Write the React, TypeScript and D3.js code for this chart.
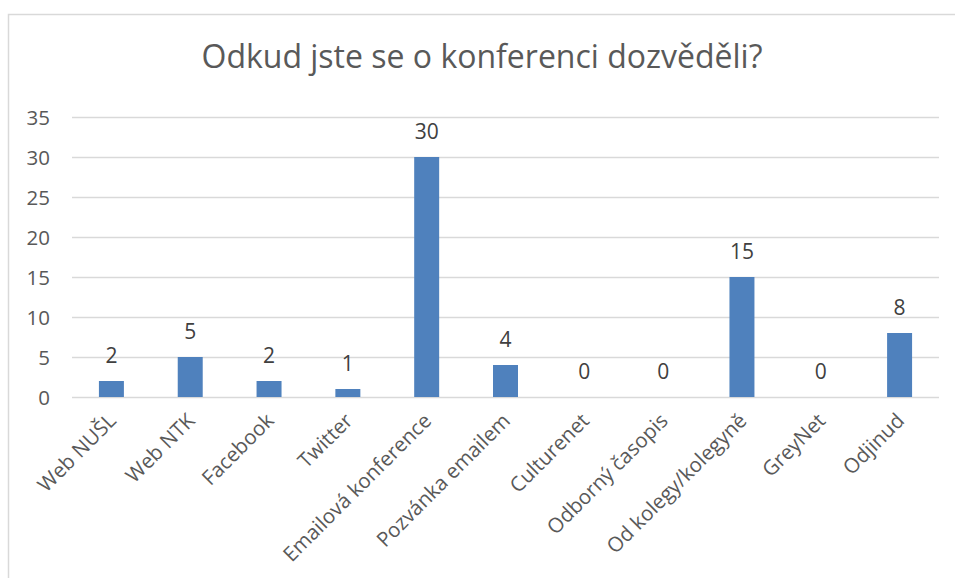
import { useEffect, useRef } from 'react';
import * as d3 from 'd3';

const categories = [
  'Web NUŠL', 'Web NTK', 'Facebook', 'Twitter', 'Emailová konference', 'Pozvánka emailem',
  'Culturenet', 'Odborný časopis', 'Od kolegy/kolegyně', 'GreyNet', 'Odjinud',
];
const counts = [2, 5, 2, 1, 30, 4, 0, 0, 15, 0, 8];
const yTicks = [0, 5, 10, 15, 20, 25, 30, 35];
const title = 'Odkud jste se o konferenci dozvěděli?';

function App() {
  const ref = useRef(null);

  const width = 955;
  const height = 578;
  const font = '"Open Sans", sans-serif';
  const textColor = '#595959';

  useEffect(() => {
    const svg = d3.select(ref.current);
    svg.selectAll('*').remove();

    const x = d3.scaleBand().domain(categories).range([72, 939]).paddingInner(0.683).paddingOuter(0.3415);
    const y = d3.scaleLinear().domain([0, 35]).range([397, 117]);

    // chart frame
    svg.append('path')
      .attr('d', 'M8.5,578 L8.5,14.5 L955,14.5')
      .attr('fill', 'none')
      .attr('stroke', '#d9d9d9')
      .attr('stroke-width', 1.5);

    svg.append('text')
      .attr('x', 482)
      .attr('y', 68)
      .attr('text-anchor', 'middle')
      .attr('font-family', font)
      .attr('font-size', 32)
      .attr('fill', textColor)
      .text(title);

    // gridlines
    svg.append('g')
      .selectAll('line')
      .data(yTicks)
      .join('line')
      .attr('x1', 72)
      .attr('x2', 939)
      .attr('y1', (d) => y(d) + 0.5)
      .attr('y2', (d) => y(d) + 0.5)
      .attr('stroke', '#d9d9d9')
      .attr('stroke-width', 1.3);

    svg.append('g')
      .selectAll('text')
      .data(yTicks)
      .join('text')
      .attr('x', 50)
      .attr('y', (d) => y(d) + 8)
      .attr('text-anchor', 'end')
      .attr('font-family', font)
      .attr('font-size', 20.5)
      .attr('fill', textColor)
      .text((d) => d);

    const bw = x.bandwidth();

    svg.append('g')
      .selectAll('rect')
      .data(counts)
      .join('rect')
      .attr('x', (_, i) => x(categories[i]) as number)
      .attr('y', (d) => y(d))
      .attr('width', bw)
      .attr('height', (d) => y(0) - y(d))
      .attr('fill', '#4f81bd');

    // data labels
    svg.append('g')
      .selectAll('text')
      .data(counts)
      .join('text')
      .attr('x', (_, i) => (x(categories[i]) as number) + bw / 2)
      .attr('y', (d) => y(d) - 18)
      .attr('text-anchor', 'middle')
      .attr('font-family', font)
      .attr('font-size', 21)
      .attr('fill', '#404040')
      .text((d) => d);

    // rotated category labels
    svg.append('g')
      .selectAll('text')
      .data(categories)
      .join('text')
      .attr('transform', (d) => `translate(${(x(d) as number) + bw / 2 + 6},${422}) rotate(-45)`)
      .attr('text-anchor', 'end')
      .attr('font-family', font)
      .attr('font-size', 20.5)
      .attr('fill', textColor)
      .text((d) => d);
  }, []);

  return (
    <svg
      width={width}
      height={height}
      ref={ref}
      style={{ position: 'absolute', left: 0, top: 0, background: '#fff' }}
    />
  );
}

export default App;
